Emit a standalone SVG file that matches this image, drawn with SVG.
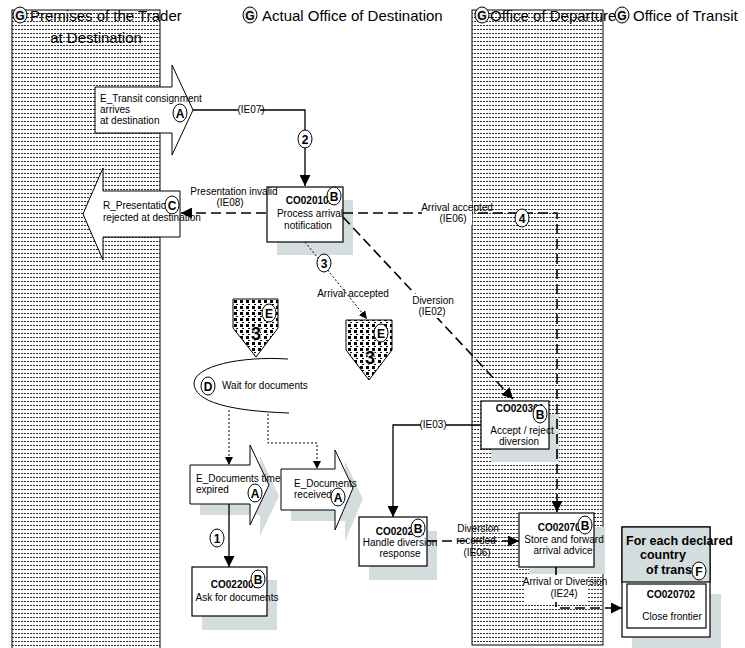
<svg xmlns="http://www.w3.org/2000/svg" width="745" height="648" viewBox="0 0 745 648">
<defs>
<pattern id="lane" width="3" height="4" patternUnits="userSpaceOnUse">
<rect width="3" height="4" fill="#fff"/>
<rect x="0" y="1" width="2" height="1" fill="#333"/>
</pattern>
<pattern id="dots" width="6" height="6" patternUnits="userSpaceOnUse">
<rect width="6" height="6" fill="#fff"/>
<rect x="0" y="0" width="3" height="3" fill="#000"/>
<rect x="2" y="4" width="2" height="1" fill="#000"/>
</pattern>
<marker id="ah" viewBox="0 0 10 10" refX="10" refY="5" markerWidth="11" markerHeight="11" markerUnits="userSpaceOnUse" orient="auto"><path d="M0,0 L10,5 L0,10 z" fill="#000"/></marker>
<marker id="as" viewBox="0 0 10 10" refX="10" refY="5" markerWidth="8" markerHeight="8" markerUnits="userSpaceOnUse" orient="auto"><path d="M0,0 L10,5 L0,10 z" fill="#000"/></marker>
</defs>
<style>
text { font-family: "Liberation Sans", Arial, sans-serif; font-size: 10px; fill: #000; }
.h { font-size: 15px; }
.b { font-weight: bold; }
.m { text-anchor: middle; }
.bd { fill: #fff; stroke: #000; stroke-width: 1; }
.bdg { fill: #eee; stroke: #000; stroke-width: 1; }
.bl { font-weight: bold; font-size: 12px; text-anchor: middle; }
.box { fill: #fff; stroke: #000; stroke-width: 1.2; }
.sh { fill: #d4dddd; }
.ln { fill: none; stroke: #000; stroke-width: 1.3; }
.da { fill: none; stroke: #000; stroke-width: 1.6; stroke-dasharray: 10 5; }
.do { fill: none; stroke: #000; stroke-width: 1; stroke-dasharray: 2 2; }
.wb { fill: #fff; }
.arr { fill: #fff; stroke: #000; stroke-width: 1; }
.pent { fill: url(#dots); stroke: #000; stroke-width: 1; }
.big3 { font-weight: bold; font-size: 18px; text-anchor: middle; stroke: #fff; stroke-width: 1.5; paint-order: stroke; }
.tt { font-weight: bold; font-size: 12.5px; }
</style>
<rect width="745" height="648" fill="#fff"/>

<g id="lanes">
<rect x="12" y="10" width="148" height="645" fill="url(#lane)" stroke="#000" stroke-width="1"/>
<rect x="472" y="10" width="131" height="635" fill="url(#lane)" stroke="#000" stroke-width="1"/>
</g>

<g id="headers">
<ellipse class="bdg" cx="20" cy="15" rx="7" ry="8"/><text class="bl" x="20" y="19.5">G</text>
<text class="h" x="30" y="21">Premises of the Trader</text>
<text class="h m" x="96" y="43">at Destination</text>
<ellipse class="bdg" cx="250" cy="15" rx="7" ry="8"/><text class="bl" x="250" y="19.5">G</text>
<text class="h" x="262" y="21">Actual Office of Destination</text>
<ellipse class="bdg" cx="482" cy="15" rx="7" ry="8"/><text class="bl" x="482" y="19.5">G</text>
<text class="h" x="490" y="21">Office of Departure</text>
<ellipse class="bdg" cx="622" cy="15" rx="7" ry="8"/><text class="bl" x="622" y="19.5">G</text>
<text class="h" x="633" y="21">Office of Transit</text>
</g>

<g id="E_Transit">
<polygon class="arr" points="95,87 172,87 172,65 193,110 172,155 172,133 95,133"/>
<text x="100" y="102">E_Transit consignment</text>
<text x="100" y="113">arrives</text>
<text x="100" y="124">at destination</text>
<ellipse class="bd" cx="180" cy="113" rx="7" ry="9"/><text class="bl" x="180" y="117.5">A</text>
</g>

<g id="R_Presentation">
<polygon class="arr" points="180,191 180,237 103,237 103,260 83,214 103,168 103,191"/>
<text x="103" y="209">R_Presentation</text>
<text x="103" y="221">rejected at destination</text>
<ellipse class="bd" cx="172" cy="205" rx="7" ry="9"/><text class="bl" x="172" y="209.5">C</text>
</g>

<g id="CO020102">
<rect class="sh" x="277" y="200" width="76" height="55"/>
<rect class="box" x="267" y="187" width="76" height="55"/>
<text class="b m" x="310" y="204">CO020102</text>
<text class="m" x="310" y="217">Process arrival</text>
<text class="m" x="308" y="229">notification</text>
<ellipse class="bd" cx="334" cy="196" rx="7" ry="9"/><text class="bl" x="334" y="200.5">B</text>
</g>

<g id="E3a">
<polygon class="pent" points="233,299 278,299 278,328 256,357 233,328"/>
<text class="big3" x="256" y="340">3</text>
<ellipse class="bd" cx="269" cy="313" rx="7" ry="9"/><text class="bl" x="269" y="317.5">E</text>
</g>

<g id="E3b">
<polygon class="pent" points="346,320 392,320 392,350 369,380 346,350"/>
<text class="big3" x="370" y="364">3</text>
<ellipse class="bd" cx="381" cy="333" rx="7" ry="9"/><text class="bl" x="381" y="337.5">E</text>
</g>

<g id="WaitDocs">
<path class="ln" style="stroke-width:1" d="M288,359 C240,356 195,366 194,383 C194,402 230,411 289,413"/>
<ellipse class="bd" cx="208" cy="386" rx="7" ry="9"/><text class="bl" x="208" y="390.5">D</text>
<text x="222" y="389">Wait for documents</text>
</g>

<g id="E_DocTimer">
<polygon class="sh" points="200,476 260,476 260,456 279,496 260,536 260,515 200,515"/>
<polygon class="arr" points="190,465 250,465 250,445 269,485 250,525 250,504 190,504"/>
<text x="196" y="482">E_Documents timer</text>
<text x="196" y="493">expired</text>
<ellipse class="bd" cx="255" cy="493" rx="7" ry="9"/><text class="bl" x="255" y="497.5">A</text>
</g>

<g id="E_DocReceived">
<polygon class="sh" points="291,480 345,480 345,461 363,499 345,541 345,521 291,521"/>
<polygon class="arr" points="281,469 335,469 335,450 353,488 335,530 335,510 281,510"/>
<text x="294" y="487">E_Documents</text>
<text x="294" y="498">received</text>
<ellipse class="bd" cx="338" cy="497" rx="7" ry="9"/><text class="bl" x="338" y="501.5">A</text>
</g>

<g id="CO022001">
<rect class="sh" x="202" y="580" width="75" height="50"/>
<rect class="box" x="192" y="567" width="75" height="49"/>
<text class="b m" x="235" y="588">CO022001</text>
<text class="m" x="237" y="601">Ask for documents</text>
<ellipse class="bd" cx="258" cy="579" rx="7" ry="9"/><text class="bl" x="258" y="583.5">B</text>
</g>

<g id="CO020201">
<rect class="sh" x="369" y="531" width="68" height="49"/>
<rect class="box" x="359" y="517" width="68" height="49"/>
<text class="b m" x="400" y="535">CO020201</text>
<text class="m" x="400" y="546">Handle diversion</text>
<text class="m" x="400" y="557">response</text>
<ellipse class="bd" cx="418" cy="528" rx="7" ry="9"/><text class="bl" x="418" y="532.5">B</text>
</g>

<g id="CO020301">
<rect class="sh" x="491" y="414" width="68" height="48"/>
<rect class="box" x="481" y="401" width="68" height="48"/>
<text class="b m" x="520" y="412">CO020301</text>
<text class="m" x="522" y="434">Accept / reject</text>
<text class="m" x="519" y="445">diversion</text>
<ellipse class="bd" cx="540" cy="414" rx="7" ry="9"/><text class="bl" x="540" y="418.5">B</text>
</g>

<g id="CO020701">
<rect class="sh" x="529" y="527" width="76" height="47"/>
<rect class="box" x="519" y="513" width="75" height="54"/>
<text class="b m" x="562" y="531">CO020701</text>
<text class="m" x="564" y="543">Store and forward</text>
<text class="m" x="563" y="554">arrival advice</text>
<ellipse class="bd" cx="585" cy="525" rx="7" ry="9"/><text class="bl" x="585" y="529.5">B</text>
</g>

<g id="TransitGroup">
<rect class="sh" x="632" y="594" width="89" height="54"/>
<rect class="box" x="622" y="527" width="88" height="110"/>
<rect x="622" y="527" width="88" height="55" fill="#d4dddd" stroke="#000" stroke-width="1.2"/>
<text class="tt" x="626" y="545">For each declared</text>
<text class="tt" x="640" y="559">country</text>
<text class="tt" x="646" y="574">of transit</text>
<ellipse class="bd" cx="699" cy="571" rx="7" ry="9"/><text class="bl" x="699" y="575.5">F</text>
</g>

<g id="CO020702">
<rect class="box" x="627" y="584" width="79" height="44"/>
<text class="b m" x="671" y="598">CO020702</text>
<text class="m" x="672" y="620">Close frontier</text>
</g>

<g id="connectors">
<path class="ln" d="M193,110 H305 V186" marker-end="url(#ah)"/>
<rect class="wb" x="238" y="104" width="22" height="12"/>
<text class="m" x="251" y="113">(IE07)</text>
<ellipse class="bd" cx="305" cy="139" rx="7" ry="9"/><text class="bl" x="305" y="143.5">2</text>

<path class="da" d="M266,213 H181" marker-end="url(#ah)"/>
<text class="m" x="234" y="195">Presentation invalid</text>
<text class="m" x="230" y="206">(IE08)</text>

<path class="da" d="M343,213 H557 V512" marker-end="url(#ah)"/>
<rect class="wb" x="422" y="201" width="50" height="24"/>
<text class="m" x="457" y="211">Arrival accepted</text>
<text class="m" x="453" y="222">(IE06)</text>
<ellipse class="bd" cx="522" cy="218" rx="7" ry="9"/><text class="bl" x="522" y="222.5">4</text>

<path class="da" d="M343,217 L513,399" marker-end="url(#ah)"/>
<rect class="wb" x="410" y="294" width="46" height="24"/>
<text class="m" x="433" y="304">Diversion</text>
<text class="m" x="432" y="315">(IE02)</text>

<path class="do" d="M305,242 L367,319" marker-end="url(#as)"/>
<ellipse class="bd" cx="324" cy="263" rx="7" ry="9"/><text class="bl" x="324" y="267.5">3</text>
<text class="m" x="353" y="297">Arrival accepted</text>

<path class="do" d="M229,410 V465" marker-end="url(#as)"/>
<path class="do" d="M268,414 V443 H317 V469" marker-end="url(#as)"/>

<path class="ln" d="M229,504 V567" marker-end="url(#ah)"/>
<ellipse class="bd" cx="217" cy="538" rx="7" ry="9"/><text class="bl" x="217" y="542.5">1</text>

<path class="ln" d="M481,425 H393 V517" marker-end="url(#ah)"/>
<rect class="wb" x="421" y="418" width="25" height="12"/>
<text class="m" x="433" y="428">(IE03)</text>

<path class="da" d="M427,541 H519" marker-end="url(#ah)"/>
<text class="m" x="478" y="532">Diversion</text>
<text class="m" x="476" y="544">recorded</text>
<text class="m" x="477" y="556">(IE06)</text>

<path class="da" d="M556,567 V608 H622" marker-end="url(#ah)"/>
<rect class="wb" x="525" y="575" width="62" height="27"/>
<text class="m" x="565" y="585">Arrival or Diversion</text>
<text class="m" x="564" y="597">(IE24)</text>
</g>
</svg>
